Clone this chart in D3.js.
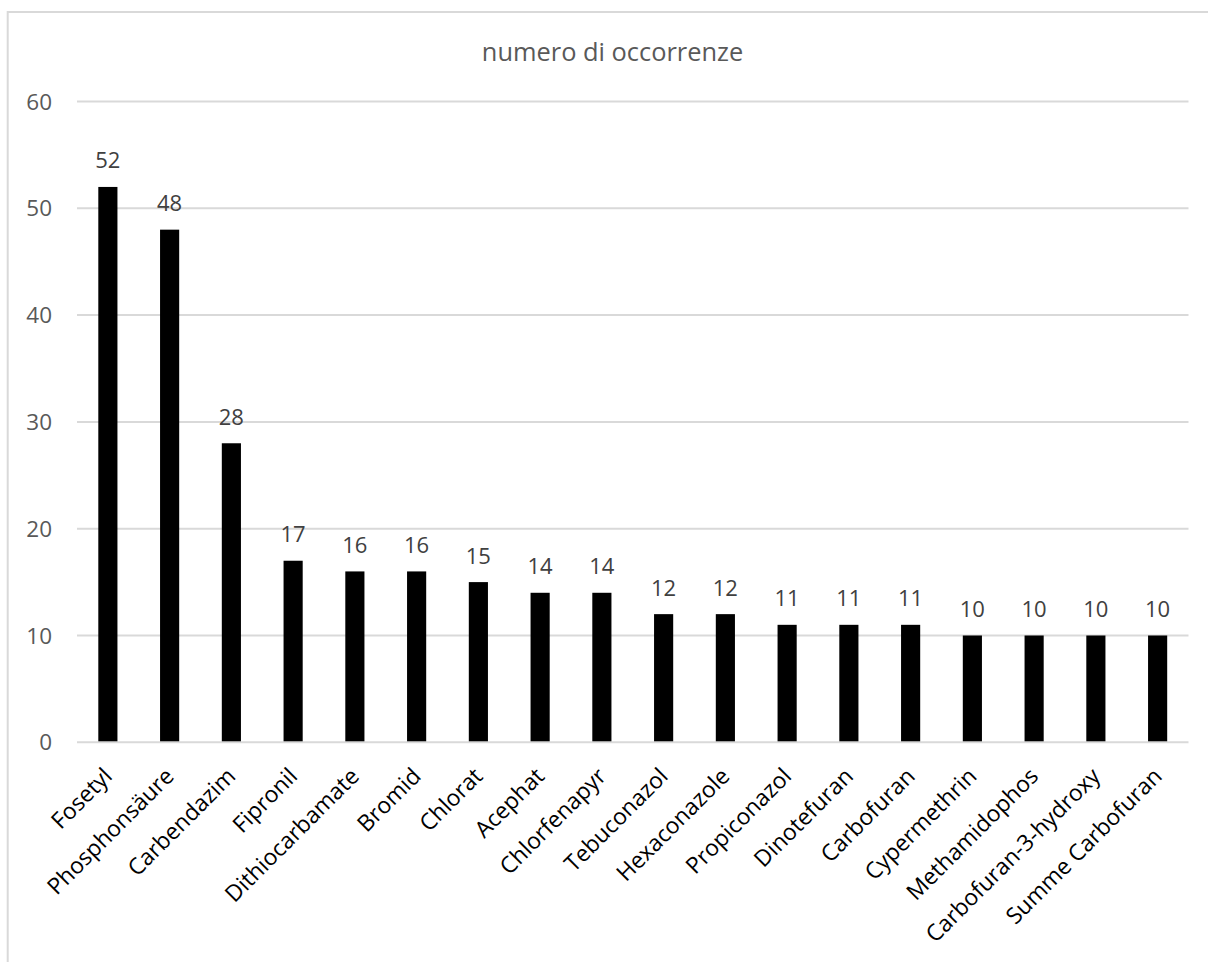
<!DOCTYPE html>
<html>
<head>
<meta charset="utf-8">
<script src="https://cdn.jsdelivr.net/npm/d3@7"></script>
<style>
  html, body { margin: 0; padding: 0; background: #fff; }
  svg { display: block; }
  text { font-family: "Open Sans", "DejaVu Sans", sans-serif; }
</style>
</head>
<body>
<svg id="chart" width="1208" height="962"></svg>
<script>
// Residue occurrence counts per active substance
const categories = [
  "Fosetyl", "Phosphonsäure", "Carbendazim", "Fipronil", "Dithiocarbamate",
  "Bromid", "Chlorat", "Acephat", "Chlorfenapyr", "Tebuconazol",
  "Hexaconazole", "Propiconazol", "Dinotefuran", "Carbofuran", "Cypermethrin",
  "Methamidophos", "Carbofuran-3-hydroxy", "Summe Carbofuran"
];
const occurrences = [52, 48, 28, 17, 16, 16, 15, 14, 14, 12, 12, 11, 11, 11, 10, 10, 10, 10];
const yTicks = [0, 10, 20, 30, 40, 50, 60];
const chartTitle = "numero di occorrenze";

const svg = d3.select("#chart");
const W = 1208, H = 962;

svg.append("rect").attr("width", W).attr("height", H).attr("fill", "#fff");

// chart area frame (left and top edges fall inside the page)
svg.append("path")
  .attr("d", `M7.7,${H} L7.7,12 L${W},12`)
  .attr("fill", "none")
  .attr("stroke", "#d9d9d9")
  .attr("stroke-width", 2);

const x = d3.scaleBand()
  .domain(categories)
  .range([77, 1188.5])
  .paddingInner(0.69)
  .paddingOuter(0.345);

const y = d3.scaleLinear()
  .domain([0, 60])
  .range([742.3, 101.5]);

// horizontal gridlines
svg.append("g")
  .selectAll("line")
  .data(yTicks)
  .join("line")
  .attr("x1", 77).attr("x2", 1188.5)
  .attr("y1", d => y(d)).attr("y2", d => y(d))
  .attr("stroke", "#d9d9d9")
  .attr("stroke-width", 2);

// y axis tick labels
svg.append("g")
  .selectAll("text")
  .data(yTicks)
  .join("text")
  .attr("x", 52)
  .attr("y", d => y(d))
  .attr("dy", "0.36em")
  .attr("text-anchor", "end")
  .attr("font-size", 22.5)
  .attr("fill", "#595959")
  .text(d => d);

const data = categories.map((c, i) => ({ name: c, value: occurrences[i] }));

// bars
svg.append("g")
  .selectAll("rect")
  .data(data)
  .join("rect")
  .attr("x", d => x(d.name))
  .attr("width", x.bandwidth())
  .attr("y", d => y(d.value))
  .attr("height", d => y(0) - 1 - y(d.value))
  .attr("fill", "#000");

// value labels above bars
svg.append("g")
  .selectAll("text")
  .data(data)
  .join("text")
  .attr("x", d => x(d.name) + x.bandwidth() / 2)
  .attr("y", d => y(d.value) - 18.5)
  .attr("text-anchor", "middle")
  .attr("font-size", 22)
  .attr("fill", "#404040")
  .text(d => d.value);

// rotated category labels
svg.append("g")
  .selectAll("text")
  .data(categories)
  .join("text")
  .attr("transform", d => `translate(${x(d) + x.bandwidth() / 2},772) rotate(-45)`)
  .attr("dy", "0.35em")
  .attr("text-anchor", "end")
  .attr("font-size", 22.8)
  .attr("fill", "#000")
  .text(d => d);

// title
svg.append("text")
  .attr("x", 612.5)
  .attr("y", 60.7)
  .attr("text-anchor", "middle")
  .attr("font-size", 25.4)
  .attr("fill", "#595959")
  .text(chartTitle);
</script>
</body>
</html>
